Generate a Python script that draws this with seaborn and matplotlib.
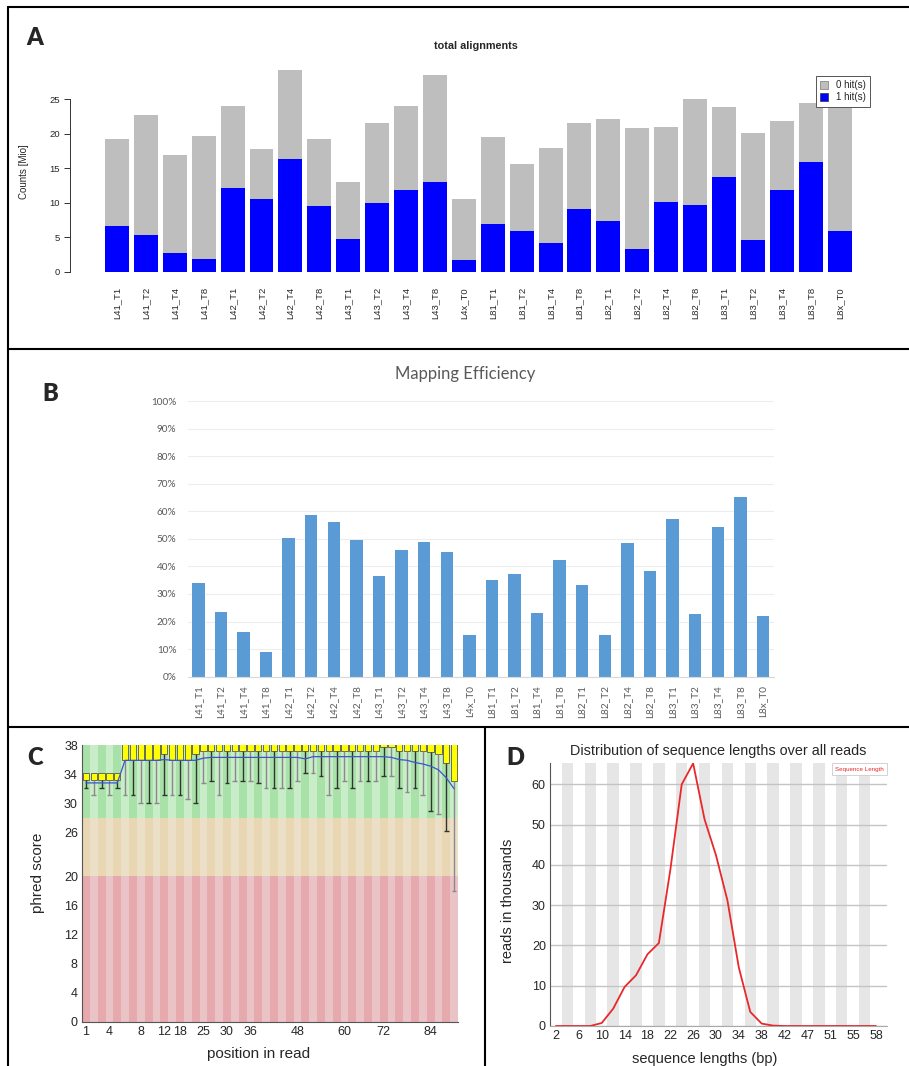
import seaborn as sns
import matplotlib.pyplot as plt
import pandas as pd
import numpy as np
from matplotlib.lines import Line2D
from matplotlib.patches import Patch

sns.set_style("white")
plt.rcParams['font.family'] = ['Liberation Sans', 'DejaVu Sans']

# ---- data ----
samples = ["L41_T1", "L41_T2", "L41_T4", "L41_T8", "L42_T1", "L42_T2", "L42_T4", "L42_T8",
           "L43_T1", "L43_T2", "L43_T4", "L43_T8", "L4x_T0", "L81_T1", "L81_T2", "L81_T4",
           "L81_T8", "L82_T1", "L82_T2", "L82_T4", "L82_T8", "L83_T1", "L83_T2", "L83_T4",
           "L83_T8", "L8x_T0"]
total_reads = [19.25, 22.7, 16.97, 19.73, 23.98, 17.8, 29.2, 19.25, 13.06, 21.6, 24.08, 28.5,
               10.54, 19.58, 15.67, 17.94, 21.6, 22.1, 20.8, 20.94, 25.05, 23.84, 20.07, 21.86,
               24.47, 26.5]
one_hit = [6.58, 5.37, 2.76, 1.84, 12.14, 10.49, 16.4, 9.53, 4.79, 9.91, 11.8, 12.96,
           1.69, 6.91, 5.85, 4.16, 9.14, 7.4, 3.24, 10.1, 9.62, 13.68, 4.55, 11.9, 15.9, 5.85]
mapping_eff = [34.1, 23.5, 16.2, 8.8, 50.4, 58.5, 56.1, 49.5, 36.4, 45.8, 48.9, 45.3,
               15.0, 35.2, 37.4, 23.2, 42.3, 33.1, 15.2, 48.4, 38.5, 57.2, 22.7, 54.3, 65.2, 22.1]

# per-base quality (48 position groups)
box_q1 = [33.2, 33.2, 33.2, 33.2, 33.2, 36.0, 36.0, 36.0, 36.0, 36.0,
          36.7, 36.0, 36.0, 36.0, 36.7, 37.2, 37.2, 37.2, 37.2, 37.2,
          37.2, 37.2, 37.2, 37.2, 37.2, 37.2, 37.2, 37.2, 37.2, 37.2,
          37.2, 37.2, 37.2, 37.2, 37.2, 37.2, 37.2, 37.2, 37.7, 37.7,
          37.2, 37.2, 37.2, 37.2, 37.1, 36.7, 35.5, 33.0]
box_q3 = [34.2, 34.2, 34.2, 34.2, 34.2, 38.5, 38.5, 38.5, 38.5, 38.5,
          38.5, 38.5, 38.5, 38.5, 38.5, 38.5, 38.5, 38.5, 38.5, 38.5,
          38.5, 38.5, 38.5, 38.5, 38.5, 38.5, 38.5, 38.5, 38.5, 38.5,
          38.5, 38.5, 38.5, 38.5, 38.5, 38.5, 38.5, 38.5, 38.5, 38.5,
          38.5, 38.5, 38.5, 38.5, 38.5, 38.5, 38.5, 38.5]
whisker_low = [32.1, 31.2, 32.1, 31.2, 32.1, 31.2, 31.2, 30.1, 30.1, 30.1,
               31.2, 31.2, 31.2, 30.6, 30.1, 32.8, 33.0, 31.2, 32.8, 33.0,
               33.0, 33.0, 32.8, 32.1, 32.1, 32.1, 32.1, 33.0, 34.2, 34.2,
               33.7, 31.2, 32.1, 33.0, 32.1, 33.0, 33.0, 33.0, 33.7, 33.7,
               32.1, 31.6, 32.1, 31.2, 29.0, 28.6, 26.2, 18.0]
mean_q = [32.8, 32.8, 32.8, 32.8, 32.8, 35.9, 35.9, 35.9, 35.9, 35.9,
          36.0, 35.9, 35.9, 35.9, 35.9, 36.2, 36.3, 36.3, 36.3, 36.3,
          36.3, 36.3, 36.3, 36.3, 36.3, 36.3, 36.3, 36.3, 36.1, 36.4,
          36.4, 36.4, 36.4, 36.4, 36.4, 36.4, 36.4, 36.4, 36.4, 36.3,
          36.0, 35.9, 35.6, 35.4, 35.1, 34.6, 33.5, 32.0]
qual_tick_idx = [0, 3, 7, 10, 12, 15, 18, 21, 27, 33, 38, 44]
qual_tick_lab = ["1", "4", "8", "12", "18", "25", "30", "36", "48", "60", "72", "84"]

# sequence length distribution
seq_lengths = [2, 4, 6, 8, 10, 12, 14, 16, 18, 20, 22, 24, 26, 28, 30, 32, 34, 36, 38, 40,
               42, 44, 46, 48, 50, 52, 54, 56, 58]
reads_k = [0, 0, 0, 0, 0.75, 4.3, 9.7, 12.6, 17.8, 20.6, 38.7, 60.0, 65.2, 51.3, 42.4, 31.2,
           14.5, 3.5, 0.6, 0.1, 0, 0, 0, 0, 0, 0, 0, 0, 0]
len_tick_lab = ["2", "6", "10", "14", "18", "22", "26", "30", "34", "38", "42", "47", "51", "55", "58"]

W, H = 909, 1066
fig = plt.figure(figsize=(W / 100, H / 100), dpi=100)


def axes_px(l, t, r, b):
    return fig.add_axes([l / W, 1 - b / H, (r - l) / W, (b - t) / H])


# ---- A: total alignments ----
dfa = pd.DataFrame({"sample": samples, "total": total_reads, "hit1": one_hit})
axA = axes_px(70, 57.8, 880, 271.7)
sns.barplot(data=dfa, x="sample", y="total", color="#bebebe", width=0.83, saturation=1,
            errorbar=None, linewidth=0, ax=axA)
sns.barplot(data=dfa, x="sample", y="hit1", color="#0000ff", width=0.83, saturation=1,
            errorbar=None, linewidth=0, ax=axA)
axA.set_xlim(-1.626, 26.4)
axA.set_ylim(0, 31)
for s in ["top", "right", "bottom"]:
    axA.spines[s].set_visible(False)
axA.spines["left"].set_bounds(0, 25)
axA.spines["left"].set_color("#333333")
axA.spines["left"].set_linewidth(0.7)
axA.set_yticks([0, 5, 10, 15, 20, 25])
axA.tick_params(axis="y", direction="out", length=4.3, width=0.7, color="#333333",
                labelsize=6.8, pad=3, left=True)
axA.tick_params(axis="x", length=0, labelsize=6.8, pad=11, labelrotation=90)
axA.set_xlabel("")
axA.set_ylabel("Counts [Mio]", fontsize=7)
axA.yaxis.set_label_coords(-0.051, 0.466)
fig.text(476 / W, 1 - 46 / H, "total alignments", ha="center", va="center",
         fontsize=7.8, fontweight="bold")
leg = axA.legend([Patch(facecolor="#bebebe", edgecolor="#777777", linewidth=0.5),
                  Patch(facecolor="#0000ff", edgecolor="#333333", linewidth=0.5)],
                 ["0 hit(s)", "1 hit(s)"], loc="upper left",
                 bbox_to_anchor=(815.7 / W, 1 - 76 / H), bbox_transform=fig.transFigure,
                 fontsize=7, frameon=True, fancybox=False, framealpha=1,
                 edgecolor="#555555", handlelength=0.8, handleheight=0.8,
                 handletextpad=0.8, borderpad=0.45, labelspacing=0.2, borderaxespad=0)
leg.get_frame().set_linewidth(0.7)

# ---- B: mapping efficiency ----
dfb = pd.DataFrame({"sample": samples, "eff": mapping_eff})
axB = axes_px(187.5, 401, 773.5, 676.7)
sns.barplot(data=dfb, x="sample", y="eff", color="#5b9bd5", width=0.55, saturation=1,
            errorbar=None, linewidth=0, ax=axB)
axB.set_xlim(-0.48, 25.47)
axB.set_ylim(0, 100)
axB.set_yticks(np.arange(0, 101, 10))
axB.set_yticklabels([f"{v}%" for v in range(0, 101, 10)])
axB.yaxis.grid(True, color="#ededed", linewidth=0.8)
axB.set_axisbelow(True)
for s in ["top", "right", "left"]:
    axB.spines[s].set_visible(False)
axB.spines["bottom"].set_color("#d9d9d9")
axB.tick_params(axis="y", length=0, labelsize=7.2, labelcolor="#595959", pad=8)
axB.tick_params(axis="x", length=0, labelsize=7.2, labelcolor="#595959", pad=6, labelrotation=90)
for lab in axB.get_xticklabels() + axB.get_yticklabels():
    lab.set_family(["Lato", "DejaVu Sans"])
axB.set_xlabel("")
axB.set_ylabel("")
fig.text(465 / W, 1 - 374 / H, "Mapping Efficiency", ha="center", va="center",
         fontsize=12, color="#595959", family=["Lato", "DejaVu Sans"])

# ---- C: per base quality ----
axC = axes_px(82, 745, 458, 1022)
n = len(box_q1)
pos = np.arange(n)
dark = ["#a9e2a9" if i % 2 == 0 else "#c9ecc9" for i in pos]
mid = ["#e9d6b2" if i % 2 == 0 else "#ecdfc8" for i in pos]
low = ["#e6a9ad" if i % 2 == 0 else "#e9c3c6" for i in pos]
axC.bar(pos, 20, bottom=0, width=1, color=low, linewidth=0)
axC.bar(pos, 8, bottom=20, width=1, color=mid, linewidth=0)
axC.bar(pos, 12, bottom=28, width=1, color=dark, linewidth=0)
wcol = ["#333333" if i % 2 == 0 else "#8a8a8a" for i in pos]
axC.vlines(pos, whisker_low, box_q1, colors=wcol, linewidth=1)
axC.hlines(whisker_low, pos - 0.3, pos + 0.3, colors=wcol, linewidth=1)
axC.bar(pos, np.array(box_q3) - np.array(box_q1), bottom=box_q1, width=0.8,
        color="#ffff00", edgecolor="#555555", linewidth=0.6)
sns.lineplot(x=pos, y=mean_q, color="#3a55d0", linewidth=0.9, ax=axC)
axC.set_xlim(-0.5, n - 0.5)
axC.set_ylim(0, 38)
axC.set_yticks([0, 4, 8, 12, 16, 20, 26, 30, 34, 38])
axC.set_xticks(qual_tick_idx)
axC.set_xticklabels(qual_tick_lab)
for s in ["top", "right"]:
    axC.spines[s].set_visible(False)
for s in ["left", "bottom"]:
    axC.spines[s].set_color("#555555")
    axC.spines[s].set_linewidth(0.8)
axC.tick_params(length=0, labelsize=9, pad=3)
axC.set_ylabel("phred score", fontsize=11)
axC.yaxis.set_label_coords(-0.098, 0.538)
axC.set_xlabel("position in read", fontsize=11)
axC.xaxis.set_label_coords(0.47, -0.09)

# ---- D: sequence length distribution ----
dfd = pd.DataFrame({"idx": np.arange(len(seq_lengths)), "length": seq_lengths, "reads": reads_k})
axD = axes_px(550, 763, 887, 1026)
axD.bar(dfd["idx"][1::2], 66, width=1, color="#e6e6e6", linewidth=0, zorder=0)
axD.yaxis.grid(True, color="#c4c4c4", linewidth=1)
axD.set_axisbelow(True)
sns.lineplot(data=dfd, x="idx", y="reads", color="#e8282a", linewidth=1.3, ax=axD,
             label="Sequence Length", zorder=3)
axD.set_xlim(-0.53, 28.97)
axD.set_ylim(0, 65.3)
axD.set_yticks([0, 10, 20, 30, 40, 50, 60])
axD.set_xticks(dfd["idx"][::2])
axD.set_xticklabels(len_tick_lab)
for s in ["top", "right"]:
    axD.spines[s].set_visible(False)
axD.spines["left"].set_color("#555555")
axD.spines["bottom"].set_color("#aaaaaa")
axD.tick_params(length=0, labelsize=9, pad=3)
axD.set_title("Distribution of sequence lengths over all reads", fontsize=10.4, pad=6)
axD.set_ylabel("reads in thousands", fontsize=10.5)
axD.yaxis.set_label_coords(-0.104, 0.475)
axD.set_xlabel("sequence lengths (bp)", fontsize=10.5)
axD.xaxis.set_label_coords(0.46, -0.1)
legD = axD.legend(loc="upper right", bbox_to_anchor=(1, 1), borderaxespad=0, fontsize=4.5,
                  handlelength=0, handletextpad=0, labelcolor="#e8282a", frameon=True,
                  fancybox=False, framealpha=1, edgecolor="#cccccc", borderpad=0.5)
for h in legD.legend_handles:
    h.set_visible(False)
legD.get_frame().set_linewidth(0.6)

# ---- panel letters and frame lines ----
for letter, x, y in [("A", 35, 38), ("B", 50, 394), ("C", 35, 758), ("D", 515, 758)]:
    fig.text(x / W, 1 - y / H, letter, ha="center", va="center", fontsize=17,
             fontweight="heavy", family=["Lato", "DejaVu Sans"])

frame = [((8, 909), (7, 7)), ((8, 8), (7, 1066)), ((8, 909), (349, 349)),
         ((8, 909), (727, 727)), ((485, 485), (727, 1066))]
for xs, ys in frame:
    fig.add_artist(Line2D([x / W for x in xs], [1 - y / H for y in ys], color="black",
                          linewidth=1.5, transform=fig.transFigure))

fig.savefig("out.png", dpi=100)
